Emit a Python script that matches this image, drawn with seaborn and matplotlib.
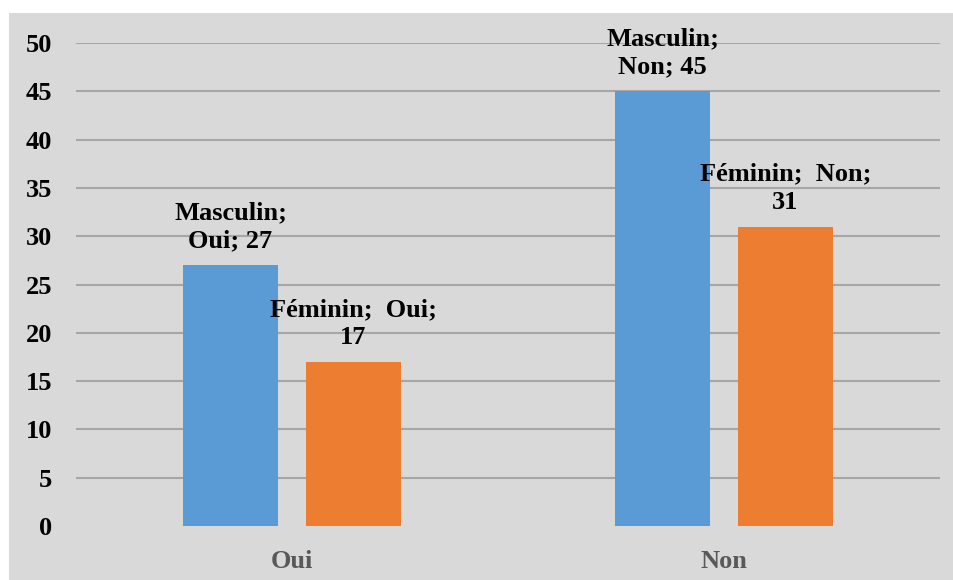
import matplotlib.pyplot as plt
import pandas as pd
import seaborn as sns
from matplotlib.patches import Rectangle

categories = ["Oui", "Non"]
sexes = ["Masculin", "Féminin"]
masculin = [27, 45]
feminin = [17, 31]

BLUE = "#5B9BD5"
ORANGE = "#ED7D31"
GREY_BG = "#D9D9D9"

df = pd.DataFrame(
    {
        "reponse": categories * 2,
        "sexe": [sexes[0]] * len(categories) + [sexes[1]] * len(categories),
        "effectif": masculin + feminin,
    }
)

sns.set_theme(style="white")
plt.rcParams["font.family"] = ["Liberation Serif", "DejaVu Serif"]
plt.rcParams["font.weight"] = "bold"

fig = plt.figure(figsize=(9.54, 5.8), dpi=100)
fig.patches.append(
    Rectangle((9 / 954, 0), 1 - 9 / 954, 567 / 580, transform=fig.transFigure,
              facecolor=GREY_BG, edgecolor="none", zorder=-10)
)
ax = fig.add_axes([76 / 954, 1 - 526 / 580, 864 / 954, 483 / 580])
ax.set_facecolor(GREY_BG)

sns.barplot(
    data=df, x="reponse", y="effectif", hue="sexe", order=categories, hue_order=sexes,
    palette=[BLUE, ORANGE], width=0.569, gap=0.22, saturation=1, ax=ax, legend=False,
    linewidth=0, zorder=3,
)


def bar_label(sexe, cat, value):
    if sexe == "Masculin":
        return f"{sexe};\n{cat}; {value}"
    return f"{sexe};  {cat};\n{value}"


for sexe, container in zip(sexes, ax.containers):
    for cat, bar in zip(categories, container):
        h = bar.get_height()
        ax.annotate(
            bar_label(sexe, cat, int(h)),
            xy=(bar.get_x() + bar.get_width() / 2, h), xytext=(0, 9), textcoords="offset points",
            ha="center", va="bottom", fontsize=19, fontweight="bold", color="black",
            linespacing=1.3, zorder=4,
        )

ax.set_xlim(-0.5, 1.5)
ax.set_ylim(0, 50)
ax.set_yticks(range(0, 51, 5))
ax.yaxis.grid(True, color="#A6A6A6", linewidth=1.5, zorder=1)
ax.set_axisbelow(True)
ax.get_ygridlines()[0].set_visible(False)
for s in ax.spines.values():
    s.set_visible(False)
ax.set_xlabel("")
ax.set_ylabel("")
ax.tick_params(axis="y", length=0, pad=17, labelsize=19, labelcolor="black")
ax.tick_params(axis="x", length=0, pad=17, labelsize=19, labelcolor="#595959")
for t in ax.get_xticklabels() + ax.get_yticklabels():
    t.set_fontweight("bold")

fig.savefig("out.png", dpi=100, facecolor="white")
